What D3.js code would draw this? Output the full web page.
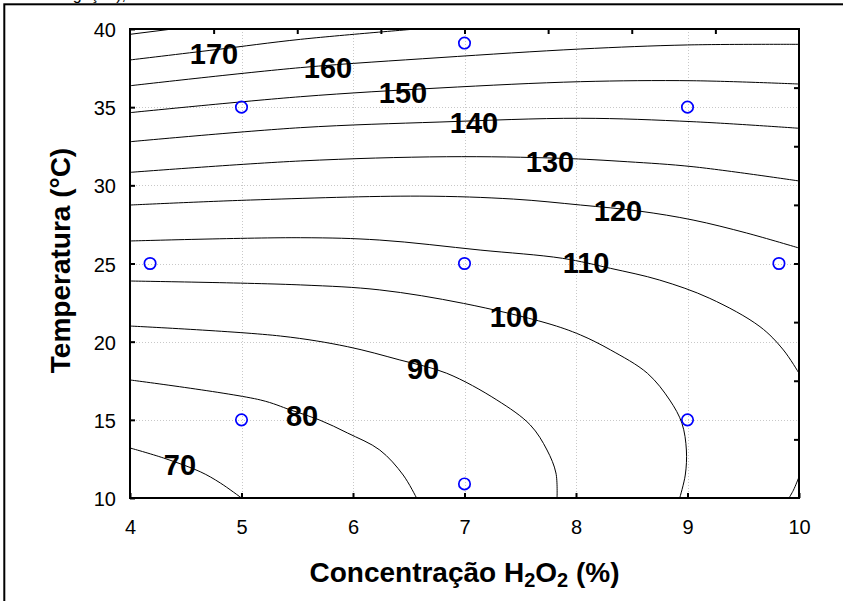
<!DOCTYPE html>
<html>
<head>
<meta charset="utf-8">
<script src="https://cdn.jsdelivr.net/npm/d3@7"></script>
<style>
  html, body { margin: 0; padding: 0; background: #fff; }
  svg { display: block; }
  text { font-family: "Liberation Sans", Arial, sans-serif; }
</style>
</head>
<body>
<svg id="chart" width="843" height="601"></svg>
<script>
// Response surface: contour levels of the response vs H2O2 concentration and temperature
const levels = [180, 170, 160, 150, 140, 130, 120, 110, 100, 90, 80, 70, 120];

// Contour traces, [concentration %, temperature °C]
const contour180 = [[4.0, 39.66], [4.38, 40.0]];
const contour170 = [[4.0, 38.02], [4.76, 38.67], [5.53, 39.34], [6.60, 40.02]];
const contour160 = [[4.0, 36.37], [5.53, 37.53], [6.78, 38.17], [8.04, 38.72], [9.0, 38.98], [10.0, 39.02]];
const contour150 = [[4.0, 34.65], [5.53, 35.67], [6.78, 36.23], [8.04, 36.63], [9.05, 36.69], [10.0, 36.48]];
const contour140 = [[4.0, 32.79], [5.53, 33.69], [6.78, 34.05], [8.04, 34.29], [9.05, 34.07], [10.0, 33.65]];
const contour130 = [[4.0, 30.83], [5.53, 31.56], [6.84, 31.83], [7.86, 31.73], [8.46, 31.51], [9.05, 31.19], [10.0, 30.28]];
const contour120 = [[4.0, 28.74], [5.08, 29.06], [6.60, 29.31], [7.44, 29.12], [8.04, 28.74], [8.57, 28.35], [9.05, 27.78], [9.53, 26.95], [10.0, 25.99]];
const contour110 = [[4.0, 26.44], [5.53, 26.65], [6.24, 26.50], [7.14, 25.86], [7.88, 25.33], [8.31, 24.69], [8.75, 23.94], [9.20, 22.77], [9.65, 20.96], [9.86, 19.47], [10.0, 17.98]];
const contour100 = [[4.0, 23.88], [5.53, 23.63], [6.24, 23.31], [6.99, 22.45], [7.74, 21.18], [8.04, 20.43], [8.31, 19.47], [8.64, 17.98], [8.84, 16.27], [8.95, 14.78], [8.99, 13.07], [8.98, 11.47], [8.93, 10.0]];
const contour90  = [[4.0, 21.00], [5.35, 20.36], [5.95, 19.68], [6.42, 18.83], [6.84, 17.98], [7.29, 16.27], [7.59, 14.67], [7.74, 13.07], [7.82, 11.60], [7.83, 10.0]];
const contour80  = [[4.0, 17.55], [5.17, 16.27], [5.44, 15.63], [5.70, 14.99], [5.95, 14.16], [6.24, 13.07], [6.45, 11.47], [6.57, 10.0]];
const contour70  = [[4.0, 13.20], [4.30, 12.56], [4.63, 11.68], [4.81, 10.96], [5.0, 10.0]];
const contour120b = [[9.91, 10.0], [9.95, 10.5], [10.0, 11.35]];
const contours = [contour180, contour170, contour160, contour150, contour140, contour130,
                  contour120, contour110, contour100, contour90, contour80, contour70, contour120b];

// Contour labels: level and where it is written, [concentration %, temperature °C]
const labelLevels = [170, 160, 150, 140, 130, 120, 110, 100, 90, 80, 70];
const labelAt = [[4.753, 38.45], [5.776, 37.51], [6.448, 35.91], [7.085, 33.99], [7.767, 31.49],
                 [8.377, 28.36], [8.090, 25.03], [7.444, 21.61], [6.628, 18.28], [5.543, 15.25], [4.448, 12.17]];

// Experimental design points (central composite design)
const designConc = [5, 7, 9, 4.18, 7, 9.82, 5, 7, 9];
const designTemp = [35, 39.1, 35, 25, 25, 25, 15, 10.9, 15];

// Axis ticks
const xTicks = [4, 5, 6, 7, 8, 9, 10];
const yTicks = [10, 15, 20, 25, 30, 35, 40];
const topTicks = [4.75, 5.5, 6.25, 7, 7.75, 8.5, 9.25];
const rightTicks = [13.75, 17.5, 21.25, 25, 28.75, 32.5, 36.25];

const svg = d3.select("#chart");
const W = 843, H = 601;
const m = { left: 130, right: 44, top: 29, bottom: 103 };
const x = d3.scaleLinear().domain([4, 10]).range([m.left, W - m.right]);
const y = d3.scaleLinear().domain([10, 40]).range([H - m.bottom, m.top]);

svg.append("rect").attr("width", W).attr("height", H).attr("fill", "#fff");

// Outer frame of the figure
svg.append("rect")
  .attr("x", 4.3).attr("y", 4.3).attr("width", 1000).attr("height", 1000)
  .attr("fill", "none").attr("stroke", "#000").attr("stroke-width", 2);

// Caption fragment above the frame
svg.append("text")
  .attr("x", 126).attr("y", 0)
  .attr("text-anchor", "end")
  .attr("font-size", 16)
  .text("gação),");

svg.append("defs").append("clipPath").attr("id", "plotclip")
  .append("rect")
  .attr("x", x(4)).attr("y", y(40))
  .attr("width", x(10) - x(4)).attr("height", y(10) - y(40));

// Dotted grid
const grid = svg.append("g").attr("stroke", "#c8c8c8").attr("stroke-width", 1).attr("stroke-dasharray", "1,2");
grid.selectAll("line.v").data(xTicks.slice(1, -1)).join("line")
  .attr("x1", d => Math.round(x(d)) + 0.5).attr("x2", d => Math.round(x(d)) + 0.5)
  .attr("y1", y(40)).attr("y2", y(10));
grid.selectAll("line.h").data(yTicks.slice(1, -1)).join("line")
  .attr("y1", d => Math.round(y(d)) + 0.5).attr("y2", d => Math.round(y(d)) + 0.5)
  .attr("x1", x(4)).attr("x2", x(10));

// Contour lines
const line = d3.line()
  .x(d => x(d[0])).y(d => y(d[1]))
  .curve(d3.curveCatmullRom.alpha(0.5));
svg.append("g").attr("clip-path", "url(#plotclip)")
  .selectAll("path").data(contours).join("path")
  .attr("d", line)
  .attr("fill", "none").attr("stroke", "#000").attr("stroke-width", 1);

// Design points
svg.append("g").selectAll("circle").data(designConc.map((c, i) => [c, designTemp[i]])).join("circle")
  .attr("cx", d => x(d[0])).attr("cy", d => y(d[1]))
  .attr("r", 5.7)
  .attr("fill", "none").attr("stroke", "#0000ff").attr("stroke-width", 1.7);

// Contour labels
svg.append("g").selectAll("text").data(labelLevels).join("text")
  .attr("x", (d, i) => x(labelAt[i][0]))
  .attr("y", (d, i) => y(labelAt[i][1]))
  .attr("dy", "0.36em")
  .attr("text-anchor", "middle")
  .attr("font-size", 29).attr("font-weight", "bold")
  .text(d => d);

// Axes with inward ticks
const bottomAxis = svg.append("g").attr("transform", `translate(0,${y(10)})`)
  .call(d3.axisBottom(x).tickValues(xTicks).tickSize(-5).tickPadding(22).tickFormat(d3.format("d")));
const leftAxis = svg.append("g").attr("transform", `translate(${x(4)},0)`)
  .call(d3.axisLeft(y).tickValues(yTicks).tickSize(-5).tickPadding(14).tickFormat(d3.format("d")));
const topAxis = svg.append("g").attr("transform", `translate(0,${y(40)})`)
  .call(d3.axisTop(x).tickValues(topTicks).tickSize(-5).tickFormat(""));
const rightAxis = svg.append("g").attr("transform", `translate(${x(10)},0)`)
  .call(d3.axisRight(y).tickValues(rightTicks).tickSize(-5).tickFormat(""));

[bottomAxis, leftAxis, topAxis, rightAxis].forEach(g => {
  g.select(".domain").remove();
  g.selectAll(".tick line").attr("stroke", "#000").attr("stroke-width", 2);
  g.selectAll(".tick text")
    .attr("font-family", "'Liberation Sans', Arial, sans-serif")
    .attr("font-size", 20).attr("fill", "#000");
});
leftAxis.selectAll(".tick text").attr("dy", "0.38em");

// Plot frame
svg.append("rect")
  .attr("x", x(4)).attr("y", y(40))
  .attr("width", x(10) - x(4)).attr("height", y(10) - y(40))
  .attr("fill", "none").attr("stroke", "#000").attr("stroke-width", 2);

// Axis titles
const xt = svg.append("text")
  .attr("x", (x(4) + x(10)) / 2).attr("y", 581.5)
  .attr("text-anchor", "middle")
  .attr("font-size", 28).attr("font-weight", "bold");
xt.append("tspan").text("Concentração H");
xt.append("tspan").attr("font-size", 20).attr("dy", 5).text("2");
xt.append("tspan").attr("dy", -5).text("O");
xt.append("tspan").attr("font-size", 20).attr("dy", 5).text("2");
xt.append("tspan").attr("dy", -5).text(" (%)");

svg.append("text")
  .attr("transform", `translate(69.5,${(y(10) + y(40)) / 2 - 3}) rotate(-90)`)
  .attr("text-anchor", "middle")
  .attr("font-size", 28).attr("font-weight", "bold")
  .text("Temperatura (°C)");
</script>
</body>
</html>
